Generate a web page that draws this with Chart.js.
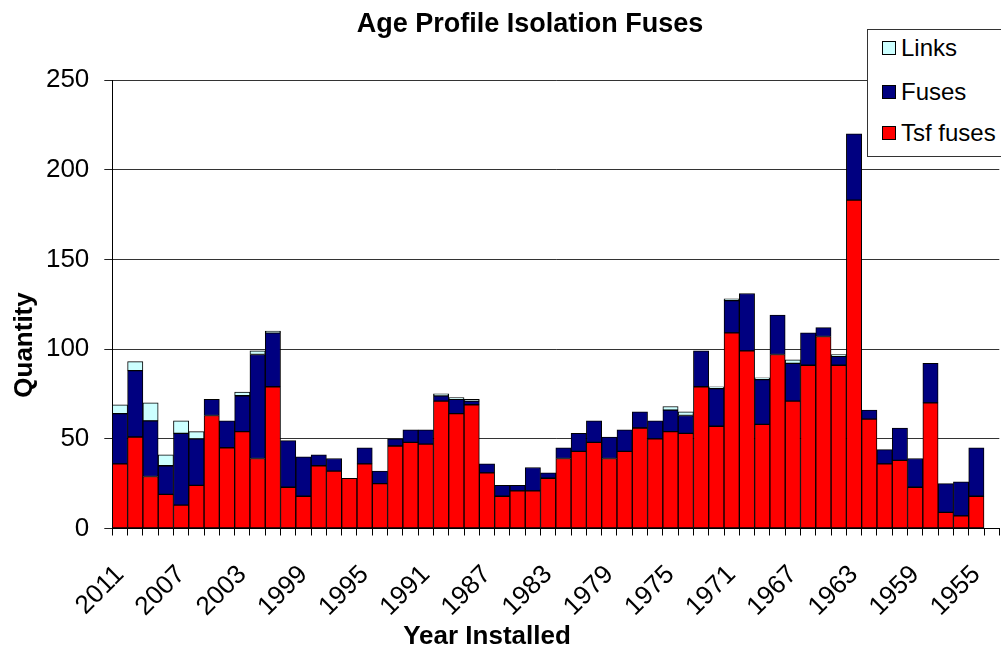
<!DOCTYPE html>
<html>
<head>
<meta charset="utf-8">
<script src="https://cdn.jsdelivr.net/npm/chart.js"></script>
<style>
  html, body { margin: 0; padding: 0; background: #fff; overflow: hidden; }
  #wrap { position: relative; width: 1001px; height: 647px; }
  #legend {
    position: absolute; left: 867px; top: 29px; width: 150px; height: 126px;
    border: 1px solid #333; background: #fff;
    font-family: "Liberation Sans", Arial, sans-serif; font-size: 24px; color: #000;
  }
  .item { position: absolute; left: 14px; display: flex; align-items: center; height: 28px; white-space: nowrap; }
  .sw { width: 12px; height: 12px; border: 1px solid #000; margin-right: 5px; }
</style>
</head>
<body>
<div id="wrap">
  <canvas id="ageChart" width="1001" height="647"></canvas>
  <div id="legend">
    <div class="item" style="top:4px"><span class="sw" style="background:#CCFFFF"></span>Links</div>
    <div class="item" style="top:48px"><span class="sw" style="background:#000080"></span>Fuses</div>
    <div class="item" style="top:89px"><span class="sw" style="background:#FF0000"></span>Tsf fuses</div>
  </div>
</div>

<script>
// Years installed, newest first (last one has no data)
const years = [
  '2011', '2010', '2009', '2008', '2007', '2006', '2005', '2004', '2003', '2002',
  '2001', '2000', '1999', '1998', '1997', '1996', '1995', '1994', '1993', '1992',
  '1991', '1990', '1989', '1988', '1987', '1986', '1985', '1984', '1983', '1982',
  '1981', '1980', '1979', '1978', '1977', '1976', '1975', '1974', '1973', '1972',
  '1971', '1970', '1969', '1968', '1967', '1966', '1965', '1964', '1963', '1962',
  '1961', '1960', '1959', '1958', '1957', '1956', '1955', '1954'
];

const tsfFuses = [
  36, 51, 29, 19, 13, 24, 63, 45, 54, 39,
  79, 23, 18, 35, 32, 28, 36, 25, 46, 48,
  47, 71, 64, 69, 31, 18, 21, 21, 28, 39,
  43, 48, 39, 43, 56, 50, 54, 53, 79, 57,
  109, 99, 58, 97, 71, 91, 107, 91, 183, 61,
  36, 38, 23, 70, 9, 7, 18, null
];

const fuses = [
  28, 37, 31, 16, 40, 26, 9, 15, 20, 58,
  30, 26, 22, 6, 7, 0, 9, 7, 4, 7,
  8, 3, 8, 2, 5, 6, 3, 13, 3, 6,
  10, 12, 12, 12, 9, 10, 12, 10, 20, 21,
  18, 32, 25, 22, 21, 18, 5, 5, 37, 5,
  8, 18, 16, 22, 16, 19, 27, null
];

const links = [
  5, 5, 10, 6, 7, 4, 0, 0, 2, 2,
  1, 0, 0, 0, 0, 0, 0, 0, 0, 0,
  0, 1, 1, 1, 0, 0, 0, 0, 0, 0,
  0, 0, 0, 0, 0, 0, 2, 2, 0, 1,
  1, 0, 1, 0, 2, 0, 0, 1, 0, 0,
  0, 0, 0, 0, 0, 0, 0, null
];

const yTicks = [0, 50, 100, 150, 200, 250];

const chartTitle = 'Age Profile Isolation Fuses';
const xTitle = 'Year Installed';
const yTitle = 'Quantity';

const FONT = '"Liberation Sans", Arial, sans-serif';

function barSet(label, data, color) {
  return {
    label: label,
    data: data,
    backgroundColor: color,
    borderColor: '#000',
    borderWidth: 1,
    borderSkipped: false,
    barPercentage: 1,
    categoryPercentage: 1
  };
}

// titles sit off-centre in the original, so draw them by hand
const titlesPlugin = {
  id: 'titles',
  afterDraw(chart) {
    const c = chart.ctx;
    c.save();
    c.fillStyle = '#000';
    c.textAlign = 'center';
    c.textBaseline = 'alphabetic';
    c.font = 'bold 27px ' + FONT;
    c.fillText(chartTitle, 530, 32);
    c.font = 'bold 26px ' + FONT;
    c.fillText(xTitle, 487, 644);
    c.translate(32, 345);
    c.rotate(-Math.PI / 2);
    c.fillText(yTitle, 0, 0);
    c.restore();
  }
};

const ctx = document.getElementById('ageChart').getContext('2d');
new Chart(ctx, {
  type: 'bar',
  data: {
    labels: years,
    datasets: [
      barSet('Tsf fuses', tsfFuses, '#FF0000'),
      barSet('Fuses', fuses, '#000080'),
      barSet('Links', links, '#CCFFFF')
    ]
  },
  plugins: [titlesPlugin],
  options: {
    responsive: false,
    animation: false,
    layout: { padding: { left: 0, right: 1.7, top: 80, bottom: 0 } },
    plugins: {
      legend: { display: false },
      tooltip: { enabled: false },
      title: { display: false }
    },
    scales: {
      x: {
        stacked: true,
        offset: true,
        grid: {
          offset: true,
          drawOnChartArea: false,
          tickLength: 7,
          color: '#000'
        },
        border: { color: '#000', width: 1 },
        ticks: {
          autoSkip: false,
          minRotation: 45,
          maxRotation: 45,
          padding: 24,
          color: '#000',
          font: { family: FONT, size: 26 },
          callback: function (value, index) {
            return index % 4 === 0 ? years[index] : '';
          }
        },
        afterFit: function (scale) {
          scale.height = 118.5;
          scale.paddingLeft = 0;
          scale.paddingRight = 0;
        }
      },
      y: {
        stacked: true,
        min: 0,
        max: 250,
        afterBuildTicks: function (scale) {
          scale.ticks = yTicks.map(v => ({ value: v }));
        },
        grid: {
          color: '#333',
          tickColor: '#222',
          tickLength: 8
        },
        border: { color: '#000', width: 1 },
        ticks: {
          padding: 15,
          color: '#000',
          font: { family: FONT, size: 26 }
        },
        afterFit: function (scale) {
          scale.width = 112.3;
          scale.paddingTop = 0;
          scale.paddingBottom = 0;
        }
      }
    }
  }
});
</script>
</body>
</html>
